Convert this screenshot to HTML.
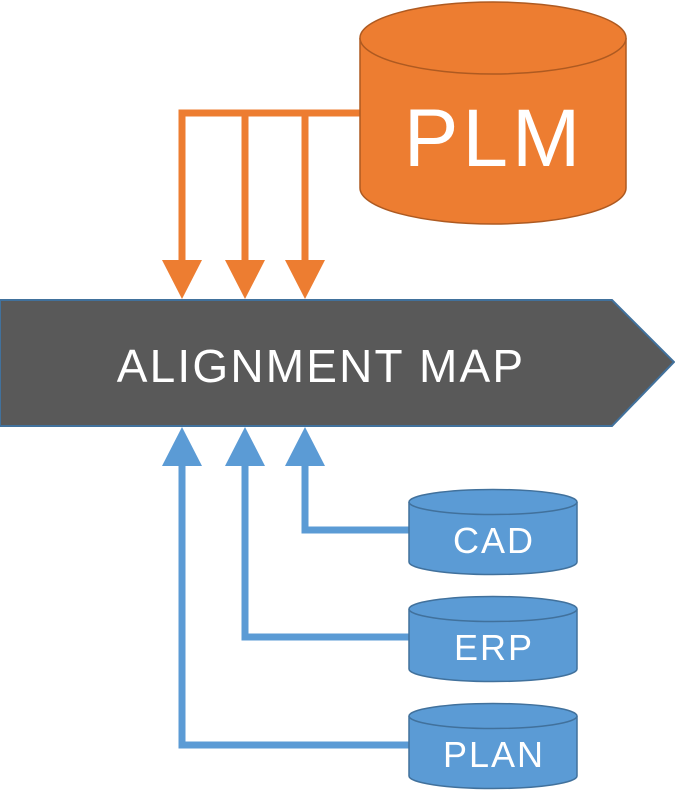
<!DOCTYPE html>
<html><head><style>html,body{margin:0;padding:0;background:#fff}svg{display:block}</style></head>
<body>
<svg width="675" height="799" viewBox="0 0 675 799" xmlns="http://www.w3.org/2000/svg">
<g fill="none" stroke="#ED7D31" stroke-width="7">
<path d="M362 113 H182 V262"/><path d="M245 113 V262"/><path d="M305 113 V262"/>
</g>
<g fill="#ED7D31">
<polygon points="162,260 202,260 182,299"/><polygon points="225,260 265,260 245,299"/><polygon points="285,260 325,260 305,299"/>
</g>
<path d="M360 38 V188 A133 36 0 0 0 626 188 V38" fill="#ED7D31" stroke="#AE5A21" stroke-width="1.5"/>
<ellipse cx="493" cy="38" rx="133" ry="36" fill="#ED7D31" stroke="#AE5A21" stroke-width="1.5"/>
<text x="494" y="166" text-anchor="middle" font-family="Liberation Sans, sans-serif" font-size="82" letter-spacing="4" fill="#fff">PLM</text>
<polygon points="0,300 612,300 674,362 612,426 0,426" fill="#595959" stroke="#41719C" stroke-width="2"/>
<text x="321" y="382" text-anchor="middle" font-family="Liberation Sans, sans-serif" font-size="46" letter-spacing="2.2" fill="#fff">ALIGNMENT MAP</text>
<g fill="none" stroke="#5B9BD5" stroke-width="7">
<path d="M182 462 V745 H410"/><path d="M245 462 V637 H410"/><path d="M305 462 V530 H410"/>
</g>
<g fill="#5B9BD5">
<polygon points="162,466 202,466 182,427"/><polygon points="225,466 265,466 245,427"/><polygon points="285,466 325,466 305,427"/>
</g>
<g stroke="#41719C" stroke-width="1.5" fill="#5B9BD5">
<path d="M409 502 V562 A84 12.5 0 0 0 577 562 V502"/><ellipse cx="493" cy="502" rx="84" ry="12.5"/>
<path d="M409 609 V669 A84 12.5 0 0 0 577 669 V609"/><ellipse cx="493" cy="609" rx="84" ry="12.5"/>
<path d="M409 716 V776 A84 12.5 0 0 0 577 776 V716"/><ellipse cx="493" cy="716" rx="84" ry="12.5"/>
</g>
<g font-family="Liberation Sans, sans-serif" font-size="36" letter-spacing="2" fill="#fff" text-anchor="middle">
<text x="494" y="553">CAD</text><text x="494" y="660">ERP</text><text x="494" y="767">PLAN</text>
</g>
</svg>
</body></html>
